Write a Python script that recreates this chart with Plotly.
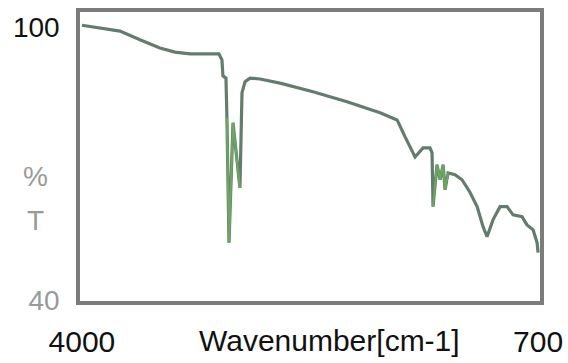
import plotly.graph_objects as go

# IR transmittance spectrum: wavenumber (cm-1) vs %T
wavenumber = [4000, 3870, 3725, 3580, 3436, 3327, 3218, 3009, 2987, 2980,
              2958, 2951, 2936, 2907, 2857, 2842, 2820, 2784, 2712, 2567,
              2328, 2082, 1843, 1720, 1713, 1662, 1590, 1532, 1482, 1467,
              1460, 1431, 1409, 1387, 1373, 1351, 1301, 1250, 1192, 1141,
              1098, 1069, 1026, 975, 924, 881, 816, 780, 736, 707, 700]
transmittance = [100.4, 99.8, 99.1, 97.2, 95.4, 94.5, 94.1, 94.1, 92.8, 89.3,
                 88.8, 80.1, 52.7, 79.0, 64.7, 85.6, 88.0, 88.8, 88.6, 87.7,
                 85.8, 83.6, 81.2, 79.6, 79.2, 75.9, 71.5, 73.5, 73.5, 72.4,
                 60.6, 69.8, 66.5, 69.8, 64.3, 68.0, 67.6, 66.5, 63.7, 60.6,
                 56.2, 54.0, 57.7, 60.6, 60.6, 58.8, 58.4, 56.6, 55.5, 52.7, 50.5]

# index ranges of the strong absorption bands, drawn highlighted in green
band_segments = [(11, 15), (30, 36)]

x_ticks = [4000, 700]
x_tick_text = ["4000", "700"]
y_ticks = [100, 40]
y_tick_text = ["100", "<span style='color:#9a9a9a'>40</span>"]

FONT = "Liberation Sans, Arial, sans-serif"

fig = go.Figure()
fig.add_trace(go.Scatter(
    x=wavenumber, y=transmittance, mode="lines",
    line=dict(color="#637c6d", width=3.2), showlegend=False,
))
for a, b in band_segments:
    fig.add_trace(go.Scatter(
        x=wavenumber[a:b], y=transmittance[a:b], mode="lines",
        line=dict(color="#6fa563", width=2.2), showlegend=False,
    ))

fig.update_layout(
    width=568, height=363,
    margin=dict(l=80, r=28, t=12, b=62),
    paper_bgcolor="white", plot_bgcolor="white",
    font=dict(family=FONT),
    xaxis=dict(
        range=[4014, 686], showgrid=False, zeroline=False, automargin=False,
        showline=True, mirror=True, linecolor="#7c7c7c", linewidth=3.5,
        tickvals=x_ticks, ticktext=x_tick_text, ticks="",
        tickfont=dict(size=30, color="#111111", family=FONT),
        ticklabelstandoff=11,
    ),
    yaxis=dict(
        range=[39.9, 103.3], showgrid=False, zeroline=False, automargin=False,
        showline=True, mirror=True, linecolor="#7c7c7c", linewidth=3.5,
        tickvals=y_ticks, ticktext=y_tick_text, ticks="",
        tickfont=dict(size=28, color="#111111", family=FONT),
        ticklabelstandoff=11,
    ),
    annotations=[
        dict(text="Wavenumber[cm-1]", xref="paper", yref="paper",
             x=0.543, y=-0.135, xanchor="center", yanchor="middle",
             showarrow=False, font=dict(size=30, color="#111111", family=FONT)),
        dict(text="%", xref="paper", yref="paper",
             x=-0.097, y=0.4325, xanchor="center", yanchor="middle",
             showarrow=False, font=dict(size=28, color="#9a9a9a", family=FONT)),
        dict(text="T", xref="paper", yref="paper",
             x=-0.097, y=0.28, xanchor="center", yanchor="middle",
             showarrow=False, font=dict(size=28, color="#9a9a9a", family=FONT)),
    ],
)

fig.write_html("out.html")
